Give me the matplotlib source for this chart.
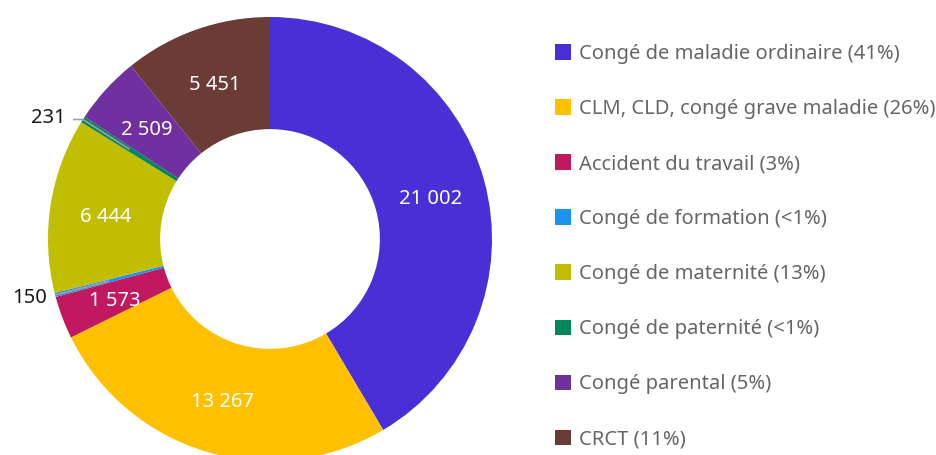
import numpy as np
import matplotlib.pyplot as plt
from matplotlib.patches import Patch

# ------------------------------
# Data
# ------------------------------

categories = ["Congé de maladie ordinaire (41%)",
              "CLM, CLD, congé grave maladie (26%)",
              "Accident du travail (3%)",
              "Congé de formation (<1%)",
              "Congé de maternité (13%)",
              "Congé de paternité (<1%)",
              "Congé parental (5%)",
              "CRCT (11%)"]
values = [21002, 13267, 1573, 150, 6444, 231, 2509, 5451]
colors = ["#4a2fd6", "#ffc000", "#c0195f", "#1a94f0",
          "#c1bd00", "#00875a", "#7030a0", "#6b3b35"]
outside = {3, 5}   # slices too thin for an inner label

plt.rcParams["font.family"] = ["Noto Sans", "DejaVu Sans"]

# ------------------------------
# Plot
# ------------------------------

fig = plt.figure(figsize=(9.37, 4.55), dpi=100)
ax = fig.add_axes([48 / 937, -6 / 455, 444 / 937, 444 / 455])

wedges, _ = ax.pie(values, colors=colors, startangle=90, counterclock=False,
                   radius=1.0, wedgeprops=dict(width=0.505, linewidth=0))
ax.set_xlim(-1, 1)
ax.set_ylim(-1, 1)
ax.set_aspect("equal")
ax.axis("off")

total = sum(values)
cum = np.cumsum([0] + values[:-1])
for i, (v, c0) in enumerate(zip(values, cum)):
    frac = (c0 + v / 2) / total
    ang = np.deg2rad(90 - 360 * frac)
    txt = f"{v:,}".replace(",", " ")
    if i in outside:
        x0, y0 = 0.75 * np.cos(ang), 0.75 * np.sin(ang)
        x1, y1 = 1.0 * np.cos(ang), 1.0 * np.sin(ang)
        if i == 5:
            xs, ys = [x0, x1, x1 - 0.045], [y0, y1, y1]
            dy = 0.005
        else:
            xs, ys = [x0, x1], [y0, y1]
            dy = -0.012
        ax.plot(xs, ys, color="#a0a0a0", lw=1.2, solid_capstyle="butt",
                clip_on=False)
        ax.text(xs[-1] - 0.035, ys[-1] + dy, txt, ha="right", va="center",
                fontsize=14.5, color="#1a1a1a")
    else:
        ax.text(0.75 * np.cos(ang), 0.75 * np.sin(ang) - 0.016, txt,
                ha="center", va="center", fontsize=14.5, color="white")

handles = [Patch(facecolor=c, edgecolor="none") for c in colors]
fig.legend(handles, categories, loc="upper left",
           bbox_to_anchor=(555 / 937, 1 - 44 / 455), frameon=False,
           fontsize=14.5, labelcolor="#666666", handlelength=0.8,
           handleheight=0.8, handletextpad=0.4, labelspacing=1.74,
           borderaxespad=0, borderpad=0)

plt.savefig("out.png", dpi=100)
